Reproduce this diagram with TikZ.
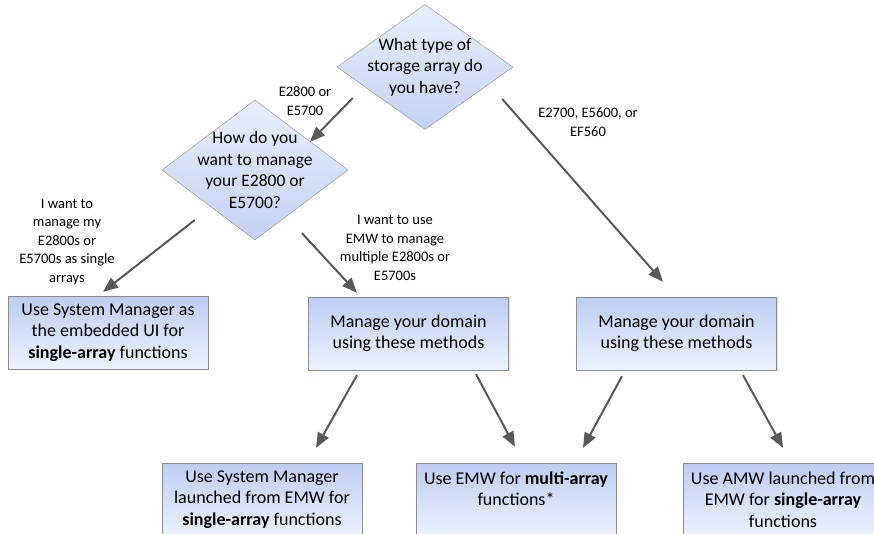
\documentclass[tikz,border=0pt]{standalone}
\usepackage{fontspec}
\setmainfont{Carlito}
\usepackage{tikz}
\usetikzlibrary{arrows.meta,shapes.geometric,shadows}
\usepackage{xcolor}
\definecolor{boxtop}{RGB}{190,205,243}
\definecolor{boxbot}{RGB}{236,241,252}
\definecolor{diatop}{RGB}{232,238,252}
\definecolor{diabot}{RGB}{196,210,244}
\definecolor{edgegray}{RGB}{140,140,140}
\definecolor{arrgray}{RGB}{89,89,89}

\tikzset{
  box/.style={rectangle, draw=edgegray, top color=boxtop, bottom color=boxbot,
    minimum width=200pt, minimum height=73pt, inner sep=0pt, align=center,
    drop shadow={shadow xshift=1.2pt, shadow yshift=-1.2pt, opacity=0.25},
    font=\fontsize{18}{21.5}\selectfont},
  decision/.style={diamond, draw=edgegray, top color=diatop, bottom color=diabot,
    inner sep=0pt},
  qtext/.style={align=center, font=\fontsize{17.5}{21.5}\selectfont},
  choice/.style={align=center, font=\fontsize{14.5}{18.5}\selectfont},
  arr/.style={draw=arrgray, line width=2pt, -{Triangle[length=15pt,width=12pt]}},
}

\begin{document}
\begin{tikzpicture}[x=1pt, y=-1pt]
    \path[use as bounding box] (0,0) rectangle (874,533);
    \clip (0,0) rectangle (874,533);

    \node[decision, minimum width=176pt, minimum height=125pt] (q1) at (425,67) {};
    \node[qtext] (q1txt) at (q1) {What type of\\storage array do\\you have?};
    \node[decision, minimum width=186pt, minimum height=140pt] (q2) at (255,170) {};
    \node[qtext] (q2txt) at (q2) {How do you\\want to manage\\your E2800 or\\E5700?};

    \node[box] (single) at (108,332.5) {Use System Manager as\\the embedded UI for\\\textbf{single-array} functions};
    \node[box] (domainL) at (408.5,333.5) {Manage your domain\\using these methods};
    \node[box] (domainR) at (676.5,333.5) {Manage your domain\\using these methods};
    \node[box] (sysmgr) at (262,499.5) {Use System Manager\\launched from EMW for\\\textbf{single-array} functions};
    \node[box] (multi) at (516,499.5) {Use EMW for \textbf{multi-array}\\functions*\\\mbox{}};
    \node[box] (amw) at (783,499.5) {Use AMW launched from\\EMW for \textbf{single-array}\\functions};

    \node[choice] (c1) at (305,101) {E2800 or\\E5700};
    \node[choice] (c2) at (588,122) {E2700, E5600, or\\EF560};
    \node[choice] (c3) at (67,242) {I want to\\manage my\\E2800s or\\E5700s as single\\arrays};
    \node[choice] (c4) at (395,248) {I want to use\\EMW to manage\\multiple E2800s or\\E5700s};

    \draw[arr] ([shift={(16pt,-31pt)}]q1.west) -- ([shift={(55pt,-42pt)}]q2.north);
    \draw[arr] ([shift={(-11pt,-32pt)}]q1.east) -- ([shift={(-13.5pt,15pt)}]domainR.north);
    \draw[arr] ([shift={(33pt,-50pt)}]q2.west) -- ([shift={(-5pt,4pt)}]single.north);
    \draw[arr] ([shift={(47pt,7pt)}]q2.south) -- ([shift={(-51.5pt,4pt)}]domainL.north);
    \draw[arr] ([shift={(-51.5pt,-5pt)}]domainL.south) -- ([shift={(54pt,15pt)}]sysmgr.north);
    \draw[arr] ([shift={(67.5pt,-4pt)}]domainL.south) -- ([shift={(-1pt,16pt)}]multi.north);
    \draw[arr] ([shift={(-54.5pt,-6pt)}]domainR.south) -- ([shift={(67pt,15pt)}]multi.north);
    \draw[arr] ([shift={(66.5pt,-5pt)}]domainR.south) -- ([shift={(0pt,15pt)}]amw.north);
\end{tikzpicture}
\end{document}
